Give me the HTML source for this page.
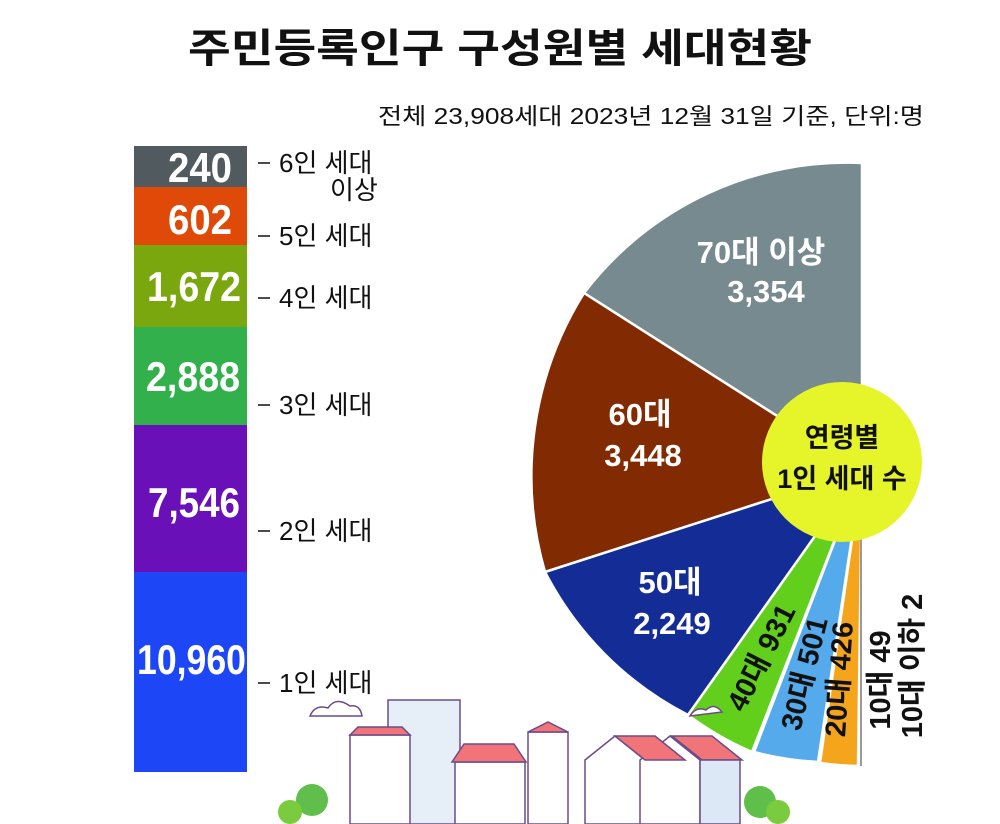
<!DOCTYPE html>
<html><head><meta charset="utf-8"><style>
body{margin:0;background:#fff;}
svg{display:block;}
</style></head><body>
<svg width="1000" height="824" viewBox="0 0 1000 824" xmlns="http://www.w3.org/2000/svg" font-family="Liberation Sans, Noto Sans CJK KR, sans-serif">
<text x="500" y="62" text-anchor="middle" font-size="40" font-weight="bold" fill="#111" textLength="624" lengthAdjust="spacingAndGlyphs">주민등록인구 구성원별 세대현황</text>
<text x="924" y="124" text-anchor="end" font-size="23" fill="#111" textLength="546" lengthAdjust="spacingAndGlyphs">전체 23,908세대 2023년 12월 31일 기준, 단위:명</text>
<!-- stacked bar -->
<rect x="134" y="146" width="113" height="41" fill="#515a5f"/>
<rect x="134" y="187" width="113" height="58" fill="#e04a08"/>
<rect x="134" y="245" width="113" height="82" fill="#7aa70e"/>
<rect x="134" y="327" width="113" height="98" fill="#31b04c"/>
<rect x="134" y="425" width="113" height="147" fill="#6a10b8"/>
<rect x="134" y="572" width="113" height="200" fill="#1c46f6"/>
<g fill="#fff" font-weight="bold" font-size="42" lengthAdjust="spacingAndGlyphs">
<text x="168" y="182" textLength="64" lengthAdjust="spacingAndGlyphs">240</text>
<text x="168" y="234" textLength="64" lengthAdjust="spacingAndGlyphs">602</text>
<text x="147" y="301" textLength="94" lengthAdjust="spacingAndGlyphs">1,672</text>
<text x="146" y="391" textLength="94" lengthAdjust="spacingAndGlyphs">2,888</text>
<text x="148" y="517" textLength="92" lengthAdjust="spacingAndGlyphs">7,546</text>
<text x="137" y="674" textLength="109" lengthAdjust="spacingAndGlyphs">10,960</text>
</g>
<g stroke="#111" stroke-width="1.5">
<line x1="258" y1="163" x2="270" y2="163"/><line x1="258" y1="236" x2="270" y2="236"/>
<line x1="258" y1="298" x2="270" y2="298"/><line x1="258" y1="405" x2="270" y2="405"/>
<line x1="258" y1="531" x2="270" y2="531"/><line x1="258" y1="683" x2="270" y2="683"/>
</g>
<g font-size="26" fill="#111">
<text x="279" y="172">6인 세대</text><text x="330" y="199">이상</text>
<text x="279" y="245">5인 세대</text>
<text x="279" y="307">4인 세대</text>
<text x="279" y="414">3인 세대</text>
<text x="279" y="540">2인 세대</text>
<text x="279" y="692">1인 세대</text>
</g>
<!-- pie -->
<g stroke="#fff" stroke-width="2.5">
<path d="M862,470 L862,163 A330,330 0 0 0 584,293 Z" fill="#768a90"/>
<path d="M862,470 L584,293 A345,345 0 0 0 545,572 Z" fill="#822b02"/>
<path d="M862,470 L545,572 A330,330 0 0 0 688,715 Z" fill="#142d96"/>
<path d="M862,470 L688,715 A310,310 0 0 0 752,752 Z" fill="#62cf1d"/>
<path d="M862,470 L754,752 A310,310 0 0 0 818,762 Z" fill="#55aaeb"/>
<path d="M862,470 L820,763 A300,300 0 0 0 858,766 Z" fill="#f4a51c"/>
</g>
<line x1="861" y1="500" x2="861" y2="766" stroke="#999" stroke-width="2"/>
<circle cx="842" cy="462" r="80" fill="#e5f52a"/>
<g font-weight="bold" text-anchor="middle">
<text x="761" y="263" font-size="31" fill="#fff">70대 이상</text>
<text x="766" y="302" font-size="31" fill="#fff">3,354</text>
<text x="640" y="425" font-size="31" fill="#fff">60대</text>
<text x="643" y="466" font-size="31" fill="#fff">3,448</text>
<text x="670" y="593" font-size="31" fill="#fff">50대</text>
<text x="672" y="634" font-size="31" fill="#fff">2,249</text>
<text x="842" y="447" font-size="27" fill="#111">연령별</text>
<text x="842" y="488" font-size="27" fill="#111">1인 세대 수</text>
<text transform="translate(770,662) rotate(-63)" font-size="29" fill="#111">40대 931</text>
<text transform="translate(814,676) rotate(-76)" font-size="29" fill="#111">30대 501</text>
<text transform="translate(849,680) rotate(-86)" font-size="29" fill="#111">20대 426</text>
<text transform="translate(890,680) rotate(-90)" font-size="29" fill="#111">10대 49</text>
<text transform="translate(922,666) rotate(-90)" font-size="29" fill="#111">10대 이하 2</text>
</g>
<!-- town -->
<g stroke="#6b4b8a" stroke-width="1.5">
<path d="M310,716 q5,-12 18,-8 q8,-12 22,-2 q10,-2 12,10 Z" fill="#fff"/>
<path d="M690,716 q6,-10 16,-6 q8,-8 16,2 Z" fill="#fff"/>
<rect x="388" y="700" width="72" height="124" fill="#e6eef8"/>
<rect x="350" y="735" width="60" height="89" fill="#fff"/>
<path d="M350,735 l8,-8 h44 l8,8 Z" fill="#f07478"/>
<rect x="455" y="762" width="70" height="62" fill="#fff"/>
<path d="M452,762 l12,-18 h50 l12,18 Z" fill="#f07478"/>
<rect x="528" y="732" width="40" height="92" fill="#fff"/>
<path d="M528,732 l20,-10 l20,10 Z" fill="#f07478"/>
<path d="M585,760 l30,-24 l30,24 v64 h-60 Z" fill="#fff"/>
<path d="M640,760 l30,-24 l30,24 v64 h-60 Z" fill="#fff"/>
<path d="M615,736 h40 l30,24 h-40 Z" fill="#f07478"/>
<path d="M672,736 h40 l30,24 h-40 Z" fill="#f07478"/>
<rect x="700" y="760" width="40" height="64" fill="#dce8f6"/>
</g>
<circle cx="312" cy="800" r="16" fill="#5fbf4a"/>
<circle cx="290" cy="812" r="12" fill="#7acb3e"/>
<circle cx="760" cy="802" r="16" fill="#5fbf4a"/>
<circle cx="778" cy="812" r="12" fill="#7acb3e"/>
</svg>
</body></html>
